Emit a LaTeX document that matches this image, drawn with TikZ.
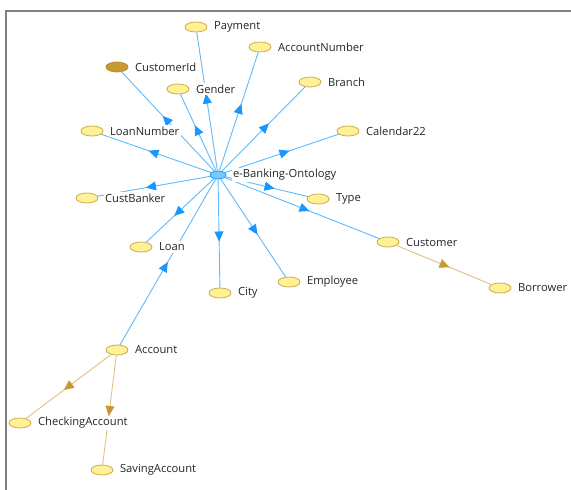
\documentclass[tikz,border=0pt]{standalone}
\usepackage{fontspec}
\setmainfont{Open Sans}
\usetikzlibrary{shapes.geometric,positioning,decorations.markings,arrows.meta}

\definecolor{edgeblue}{RGB}{95,185,250}
\definecolor{tipblue}{RGB}{25,150,255}
\definecolor{edgegold}{RGB}{225,192,125}
\definecolor{tipgold}{RGB}{200,150,50}
\definecolor{clsfill}{RGB}{255,242,150}
\definecolor{clsdraw}{RGB}{205,170,70}
\definecolor{framegray}{RGB}{128,128,128}

\begin{document}
\begin{tikzpicture}[x=1pt,y=-1pt,
		cls/.style={ellipse,draw=clsdraw,fill=clsfill,line width=0.8pt,minimum width=22pt,minimum height=10pt,inner sep=0pt},
		rootcls/.style={ellipse,draw=tipblue,fill={rgb,255:red,125;green,200;blue,250},line width=0.8pt,minimum width=16pt,minimum height=8pt,inner sep=0pt},
		lbl/.style={fill=white,inner sep=1.5pt,text=black!85,font=\fontsize{11.2}{13}\selectfont},
		isa/.style={draw=edgeblue,line width=0.9pt,postaction={decorate},
			decoration={markings,mark=at position 0.5 with {\arrow[tipblue,xshift=#1]{Triangle[length=10pt,width=9pt]}}}},
		isa/.default=8pt,
		sub/.style={draw=edgegold,line width=0.9pt,postaction={decorate},
			decoration={markings,mark=at position 0.5 with {\arrow[tipgold,xshift=6pt]{Triangle[length=10pt,width=9pt]}}}}]
		\useasboundingbox (0,0) rectangle (571,490);
		\draw[framegray,line width=2pt] (6,490) -- (6,11) -- (571,11);
		% classes
		\node[rootcls](root) at (218,175){};
		\node[cls](pay) at (196,27){};
		\node[cls](accnum) at (260,47){};
		\node[cls,fill={rgb,255:red,200;green,155;blue,50},draw={rgb,255:red,180;green,140;blue,40}](custid) at (117,67){};
		\node[cls](gender) at (178,89){};
		\node[cls](branch) at (310,82){};
		\node[cls](loannum) at (92,131){};
		\node[cls](cal) at (348,131){};
		\node[cls](custbank) at (87,198){};
		\node[cls](type) at (318,199){};
		\node[cls](customer) at (388,242){};
		\node[cls](loan) at (141,247){};
		\node[cls](employee) at (289,282){};
		\node[cls](city) at (220,293){};
		\node[cls](borrower) at (500,288){};
		\node[cls](account) at (117,350){};
		\node[cls](checking) at (20,423){};
		\node[cls](saving) at (102,470){};
		% edges
		\foreach \t in {pay,accnum,custid,gender,branch,loannum,cal,custbank,type,customer,loan,employee,city}
			\draw[isa] (root) -- (\t);
		\draw[isa=0pt] (account) -- (root);
		\draw[sub] (customer) -- (borrower);
		\draw[sub] (account) -- (checking);
		\draw[sub] (account) -- (saving);
		% labels
		\node[lbl,right=5pt of root]{e-Banking-Ontology};
		\node[lbl,right=5pt of pay]{Payment};
		\node[lbl,right=5pt of accnum]{AccountNumber};
		\node[lbl,right=5pt of custid]{CustomerId};
		\node[lbl,right=5pt of gender]{Gender};
		\node[lbl,right=5pt of branch]{Branch};
		\node[lbl,right=5pt of loannum]{LoanNumber};
		\node[lbl,right=5pt of cal]{Calendar22};
		\node[lbl,right=5pt of custbank]{CustBanker};
		\node[lbl,right=5pt of type]{Type};
		\node[lbl,right=5pt of customer]{Customer};
		\node[lbl,right=5pt of loan]{Loan};
		\node[lbl,right=5pt of employee]{Employee};
		\node[lbl,right=5pt of city]{City};
		\node[lbl,right=5pt of borrower]{Borrower};
		\node[lbl,right=5pt of account]{Account};
		\node[lbl,right=5pt of checking]{CheckingAccount};
		\node[lbl,right=5pt of saving]{SavingAccount};
	\end{tikzpicture}
\end{document}
